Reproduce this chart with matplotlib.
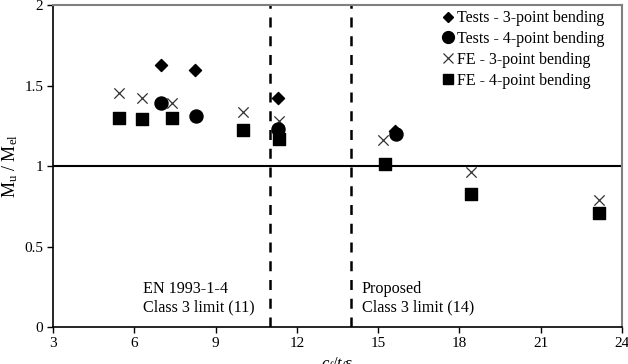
import matplotlib
matplotlib.use("Agg")
import matplotlib.pyplot as plt
from matplotlib.lines import Line2D

plt.rcParams['font.family'] = ['Liberation Serif', 'DejaVu Serif']
plt.rcParams['mathtext.fontset'] = 'custom'
plt.rcParams['mathtext.rm'] = 'Liberation Serif'
plt.rcParams['mathtext.it'] = 'Liberation Serif:italic'

# Data
tests3_x = [7.0, 8.25, 11.3, 15.62]
tests3_y = [1.627, 1.596, 1.42, 1.22]
tests4_x = [7.0, 8.27, 11.29, 15.66]
tests4_y = [1.389, 1.312, 1.228, 1.199]
fe3_x = [5.44, 6.27, 7.40, 10.02, 11.33, 15.18, 18.42, 23.15]
fe3_y = [1.452, 1.420, 1.393, 1.334, 1.28, 1.161, 0.962, 0.787]
fe4_x = [5.44, 6.27, 7.40, 10.02, 11.33, 15.25, 18.42, 23.15]
fe4_y = [1.30, 1.29, 1.30, 1.222, 1.168, 1.010, 0.829, 0.708]
limits = [11, 14]
xticks = [3, 6, 9, 12, 15, 18, 21, 24]
yticks = [0, 0.5, 1, 1.5, 2]
yticklabels = ['0', '0.5', '1', '1.5', '2']

fig = plt.figure(figsize=(6.28, 3.64), dpi=100)
ax = fig.add_axes([0.0844, 0.1016, 0.906, 0.8846])

ax.axhline(1.0, color='black', lw=1.5, zorder=1)
for lx in limits:
    ax.axvline(lx, color='black', lw=1.8, ls=(0, (4, 3.5)), zorder=1)

ax.scatter(fe3_x, fe3_y, marker='x', s=55, c='#333333', linewidths=0.9, zorder=3)
ax.scatter(fe4_x, fe4_y, marker='s', s=68, c='black', zorder=3)
ax.scatter(tests4_x, tests4_y, marker='o', s=88, c='black', zorder=4)
ax.scatter(tests3_x, tests3_y, marker='D', s=38, c='black', zorder=5)

ax.set_xlim(3, 24)
ax.set_ylim(0, 2)
ax.set_xticks(xticks)
ax.set_yticks(yticks)
ax.set_yticklabels(yticklabels)
ax.tick_params(direction='out', length=4, width=1, labelsize=11, colors='black', pad=3)
for s in ['left', 'bottom']:
    ax.spines[s].set_color('black')
    ax.spines[s].set_linewidth(1.2)
for s in ['top', 'right']:
    ax.spines[s].set_color('#808080')
    ax.spines[s].set_linewidth(1.5)

ax.set_xlabel(r'$c_f/t_f\varepsilon$', fontsize=12, labelpad=4)
ax.set_ylabel(r'$\mathrm{M_u}$ / $\mathrm{M_{el}}$', fontsize=13, labelpad=3)

ax.text(6.32, 0.075, 'EN 1993-1-4\nClass 3 limit (11)', fontsize=11.6, ha='left', va='bottom', linespacing=1.2)
ax.text(14.4, 0.075, 'Proposed\nClass 3 limit (14)', fontsize=11.6, ha='left', va='bottom', linespacing=1.2)

handles = [
    Line2D([], [], marker='D', color='black', ls='none', markersize=5.5),
    Line2D([], [], marker='o', color='black', ls='none', markersize=8.5),
    Line2D([], [], marker='x', color='#333333', ls='none', markersize=7.5, markeredgewidth=0.9),
    Line2D([], [], marker='s', color='black', ls='none', markersize=7.5),
]
labels = ['Tests - 3-point bending', 'Tests - 4-point bending', 'FE - 3-point bending', 'FE - 4-point bending']
ax.legend(handles, labels, loc='upper left', bbox_to_anchor=(0.685, 0.984), frameon=False,
          fontsize=11.5, handlelength=0.6, handletextpad=0.3, labelspacing=0.3,
          borderpad=0, borderaxespad=0)

fig.savefig('out.png', dpi=100)
